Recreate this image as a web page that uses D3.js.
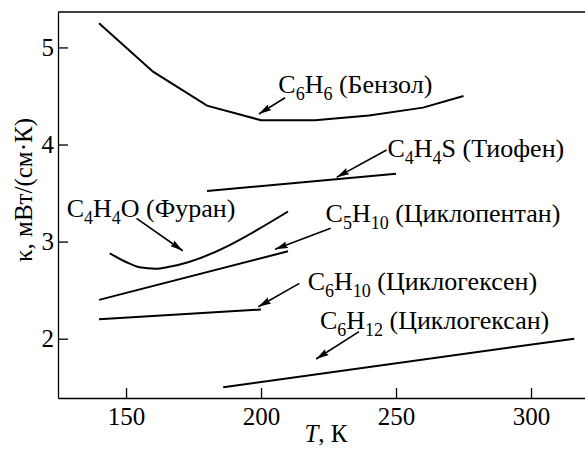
<!DOCTYPE html>
<html>
<head>
<meta charset="utf-8">
<script src="https://cdn.jsdelivr.net/npm/d3@7"></script>
<style>
  body { margin: 0; background: #fff; }
  svg { display: block; }
</style>
</head>
<body>
<div id="chart"></div>
<script>
// temperature (K) and thermal conductivity (mW/(cm K)) for each liquid
const benzolT = [140, 160, 180, 200, 220, 240, 260, 275];
const benzolK = [5.25, 4.75, 4.40, 4.25, 4.25, 4.30, 4.38, 4.50];
const tiofenT = [180, 250];
const tiofenK = [3.52, 3.70];
const furanT = [144, 150, 155, 161, 166, 210];
const furanK = [2.88, 2.79, 2.735, 2.72, 2.74, 3.31];
const pentanT = [140, 210];
const pentanK = [2.40, 2.90];
const geksenT = [140, 200];
const geksenK = [2.20, 2.30];
const geksanT = [186, 316];
const geksanK = [1.50, 2.00];

const xTicks = [150, 200, 250, 300];
const yTicks = [2, 3, 4, 5];

const names = ["C6H6 (Бензол)", "C4H4S (Тиофен)", "C4H4O (Фуран)",
               "C5H10 (Циклопентан)", "C6H10 (Циклогексен)", "C6H12 (Циклогексан)"];

// label start (baseline) and arrow tail -> tip, in data units
const labelPos = [[206.4, 4.528], [246.8, 3.871], [128.0, 3.256], [223.9, 3.205], [217.3, 2.501], [221.8, 2.100]];
const arrowFrom = [[208.9, 4.482], [246.5, 3.943], [153.9, 3.240], [225.8, 3.137], [214.2, 2.570], [236.3, 2.072]];
const arrowTo = [[199.2, 4.314], [228.0, 3.662], [171.0, 2.906], [205.2, 2.921], [199.0, 2.329], [220.4, 1.791]];

const series = [
  {t: benzolT, k: benzolK, curve: d3.curveLinear},
  {t: tiofenT, k: tiofenK, curve: d3.curveLinear},
  {t: furanT, k: furanK, curve: d3.curveMonotoneX},
  {t: pentanT, k: pentanK, curve: d3.curveLinear},
  {t: geksenT, k: geksenK, curve: d3.curveLinear},
  {t: geksanT, k: geksanK, curve: d3.curveLinear}
];

const width = 585, height = 455;
const margin = {top: 12, right: 0, bottom: 57, left: 58};
const font = "Liberation Serif";

const svg = d3.select("#chart").append("svg")
    .attr("width", width)
    .attr("height", height);

const x = d3.scaleLinear().domain([124.8, 320]).range([margin.left, width - margin.right]);
const y = d3.scaleLinear().domain([1.389, 5.365]).range([height - margin.bottom, margin.top]);

// arrow head
svg.append("defs").append("marker")
    .attr("id", "head")
    .attr("markerUnits", "userSpaceOnUse")
    .attr("viewBox", "0 0 13 7")
    .attr("refX", 13).attr("refY", 3.5)
    .attr("markerWidth", 13).attr("markerHeight", 7)
    .attr("orient", "auto")
    .append("path")
    .attr("d", "M0,0 L13,3.5 L0,7 L2,3.5 Z")
    .attr("fill", "#000");

// axes, ticks pointing inward
const xAxis = svg.append("g")
    .attr("transform", "translate(0," + (height - margin.bottom) + ")")
    .call(d3.axisBottom(x).tickValues(xTicks).tickFormat(d3.format("d"))
        .tickSizeInner(-10).tickSizeOuter(0).tickPadding(9));

const yAxis = svg.append("g")
    .attr("transform", "translate(" + margin.left + ",0)")
    .call(d3.axisLeft(y).tickValues(yTicks).tickFormat(d3.format("d"))
        .tickSizeInner(-10).tickSizeOuter(0).tickPadding(4));

[xAxis, yAxis].forEach(a => {
    a.selectAll("path, line").attr("stroke", "#000").attr("stroke-width", 1.3);
    a.selectAll("text")
        .style("font-family", font)
        .style("font-size", "25px")
        .attr("fill", "#000");
});

// top frame line
svg.append("line")
    .attr("x1", margin.left).attr("x2", width - margin.right)
    .attr("y1", margin.top).attr("y2", margin.top)
    .attr("stroke", "#000").attr("stroke-width", 1.3);

// curves
series.forEach(s => {
    const line = d3.line()
        .x(d => x(d[0]))
        .y(d => y(d[1]))
        .curve(s.curve);
    svg.append("path")
        .datum(d3.zip(s.t, s.k))
        .attr("d", line)
        .attr("fill", "none")
        .attr("stroke", "#000")
        .attr("stroke-width", 2);
});

// arrows
names.forEach((n, i) => {
    svg.append("line")
        .attr("x1", x(arrowFrom[i][0])).attr("y1", y(arrowFrom[i][1]))
        .attr("x2", x(arrowTo[i][0])).attr("y2", y(arrowTo[i][1]))
        .attr("stroke", "#000")
        .attr("stroke-width", 1.6)
        .attr("marker-end", "url(#head)");
});

// labels: digits in the formula become subscripts
names.forEach((n, i) => {
    const sp = n.indexOf(" ");
    const formula = n.slice(0, sp);
    const rest = n.slice(sp);
    const txt = svg.append("text")
        .attr("x", x(labelPos[i][0]))
        .attr("y", y(labelPos[i][1]))
        .style("font-family", font)
        .style("font-size", "26px")
        .attr("fill", "#000");
    const parts = formula.match(/[A-Z][a-z]?|\d+/g);
    let down = false;
    parts.forEach(p => {
        const isSub = /\d/.test(p);
        const t = txt.append("tspan").text(p);
        if (isSub) {
            t.style("font-size", "18px");
            if (!down) { t.attr("dy", 7); down = true; }
        } else if (down) { t.attr("dy", -7); down = false; }
    });
    const t = txt.append("tspan").text(rest.replace(" ", "\u00a0"));
    if (down) t.attr("dy", -7);
});

// axis titles
svg.append("text")
    .attr("transform", "translate(32,190) rotate(-90)")
    .attr("text-anchor", "middle")
    .style("font-family", font)
    .style("font-size", "25px")
    .attr("fill", "#000")
    .text("κ, мВт/(см·К)");

const xt = svg.append("text")
    .attr("x", 326)
    .attr("y", 442)
    .attr("text-anchor", "middle")
    .style("font-family", font)
    .style("font-size", "25px")
    .attr("fill", "#000");
xt.append("tspan").style("font-style", "italic").text("T");
xt.append("tspan").text(", К");
</script>
</body>
</html>
